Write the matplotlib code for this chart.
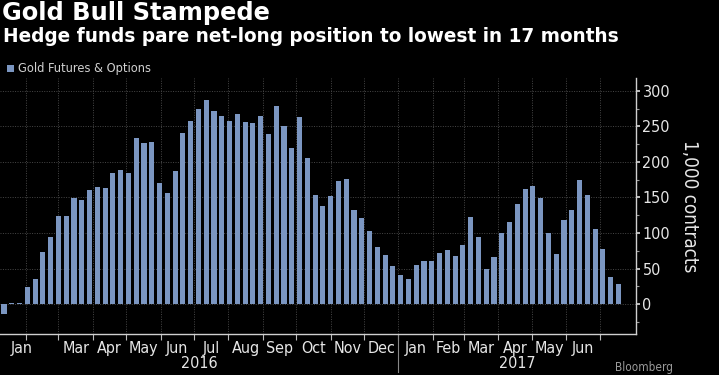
import numpy as np
import pandas as pd
import matplotlib
matplotlib.use('Agg')
import matplotlib.pyplot as plt
import matplotlib.dates as mdates
from matplotlib import font_manager as fm
from matplotlib.ticker import MultipleLocator, FixedLocator, NullFormatter, FixedFormatter
from matplotlib.patches import Rectangle
import matplotlib.transforms as mtransforms


# managed-money net long, gold futures & options, 1,000 contracts (weekly)
first_week = '2016-01-12'
net_long = [-14, 1.5, 1.5, 24, 36, 73, 94, 124, 124, 149,
            147, 161, 165, 164, 185, 189, 185, 234, 226, 228,
            170, 156, 187, 241, 257, 274, 287, 272, 265, 257,
            268, 256, 255, 265, 239, 279, 250, 219, 263, 205,
            154, 138, 152, 173, 176, 132, 121, 103, 81, 69,
            53, 41, 35, 55, 60, 60, 72, 76, 67, 83,
            122, 94, 50, 66, 100, 116, 141, 162, 166, 149,
            100, 71, 118, 132, 175, 154, 105, 77, 38, 28]
month_labels = ['Jan', '', 'Mar', 'Apr', 'May', 'Jun', 'Jul', 'Aug', 'Sep',
                'Oct', 'Nov', 'Dec', 'Jan', 'Feb', 'Mar', 'Apr', 'May', 'Jun']
year_labels = ['2016', '2017']
y_ticks = [0, 50, 100, 150, 200, 250, 300]

title = 'Gold Bull Stampede'
subtitle = 'Hedge funds pare net-long position to lowest in 17 months'
legend_label = 'Gold Futures & Options'

BAR = '#7b96c1'
TXT = '#e6e6e6'
GRID = '#474747'

# narrow font for the small texts if one is there
names = {f.name for f in fm.fontManager.ttflist}
stretch = 'normal'
if 'Liberation Sans Narrow' in names:
    family = 'Liberation Sans Narrow'
elif any(f.name == 'DejaVu Sans' and f.stretch == 'condensed' for f in fm.fontManager.ttflist):
    family = 'DejaVu Sans'
    stretch = 'condensed'
else:
    family = 'DejaVu Sans'
plt.rcParams['font.family'] = [family]
plt.rcParams['font.stretch'] = stretch

dates = pd.date_range(first_week, periods=len(net_long), freq='7D')
x = dates.to_pydatetime()
day = pd.Timedelta(days=1)

fig = plt.figure(figsize=(7.19, 3.75), dpi=100, facecolor='black')
W, H = 719, 375
ax = fig.add_axes([0, (H - 334) / H, 635.5 / W, (334 - 78) / H], facecolor='black')

ax.bar(x, net_long, width=4.6, color=BAR, zorder=3)

ax.set_xlim(dates[0] - 3.6 * day, dates[-1] + 15.3 * day)
ax.set_ylim(-42, 318)

# month boundaries (ticks + grid) and labels in between
bounds = pd.date_range('2016-01-01', '2017-07-01', freq='MS')
mids = list(bounds[:-1] + (bounds[1:] - bounds[:-1]) / 2)
mids[0] = bounds[1] - 4 * day
ax.xaxis.set_major_locator(FixedLocator(mdates.date2num(bounds[1:].to_pydatetime())))
ax.xaxis.set_major_formatter(NullFormatter())
ax.xaxis.set_minor_locator(FixedLocator(mdates.date2num([m.to_pydatetime() for m in mids])))
ax.xaxis.set_minor_formatter(FixedFormatter(month_labels))
ax.tick_params(axis='x', which='major', direction='out', length=4, width=0.8, color='#bbbbbb')
ax.tick_params(axis='x', which='minor', length=0, pad=5, labelsize=11.5, labelcolor=TXT)

ax.yaxis.tick_right()
ax.yaxis.set_label_position('right')
ax.set_yticks(y_ticks)
ax.set_yticklabels([str(v) for v in y_ticks])
ax.yaxis.set_minor_locator(MultipleLocator(25))
ax.tick_params(axis='y', which='major', direction='out', length=3, width=1.2, color='#dddddd',
               labelsize=11.5, labelcolor=TXT, pad=2)
ax.tick_params(axis='y', which='minor', direction='out', length=2, width=0.8, color='#999999')
ax.set_ylabel('1,000 contracts', rotation=270, color=TXT, fontsize=13.5, labelpad=21)

ax.grid(True, which='major', axis='both', color=GRID, linestyle=(0, (1, 1.5)), linewidth=0.7, zorder=0)

for s in ['top', 'left']:
    ax.spines[s].set_visible(False)
for s in ['bottom', 'right']:
    ax.spines[s].set_color('#cfcfcf')
    ax.spines[s].set_linewidth(1.0)

# year labels and separator
trans = mtransforms.blended_transform_factory(ax.transData, ax.transAxes)
jan17 = mdates.date2num(pd.Timestamp('2017-01-01').to_pydatetime())
left, right = ax.get_xlim()
ax.text((left + jan17) / 2, -0.085, year_labels[0], transform=trans, ha='center', va='top',
        color=TXT, fontsize=11.5)
ax.text((jan17 + right) / 2, -0.085, year_labels[1], transform=trans, ha='center', va='top',
        color=TXT, fontsize=11.5)
ax.plot([jan17, jan17], [0, -0.15], transform=trans, color='#888888', lw=0.8, clip_on=False)

# titles and legend
t1 = fig.text(2 / W, 1 - 1 / H, title, color='white', fontsize=18, fontweight='bold',
              family='DejaVu Sans', stretch='normal', ha='left', va='top')
t2 = fig.text(3 / W, 1 - 27 / H, subtitle, color='white', fontsize=14, fontweight='bold',
              family='DejaVu Sans', stretch='normal', ha='left', va='top')

# scale the headline fonts so their widths match the chart
renderer = fig.canvas.get_renderer()
for t, target in [(t1, 270), (t2, 619)]:
    w = t.get_window_extent(renderer).width
    t.set_fontsize(t.get_fontsize() * target / w)

fig.patches.append(Rectangle((7 / W, 1 - 72 / H), 7 / W, 7 / H, transform=fig.transFigure,
                             facecolor=BAR, edgecolor='none'))
fig.text(18 / W, 1 - 68.5 / H, legend_label, color='#d0d0d0', fontsize=9.2, ha='left', va='center')

fig.text(615 / W, 1 / H, 'Bloomberg', color='#9a9a9a', fontsize=8.5, ha='left', va='bottom')

fig.savefig('out.png', dpi=100, facecolor='black')
